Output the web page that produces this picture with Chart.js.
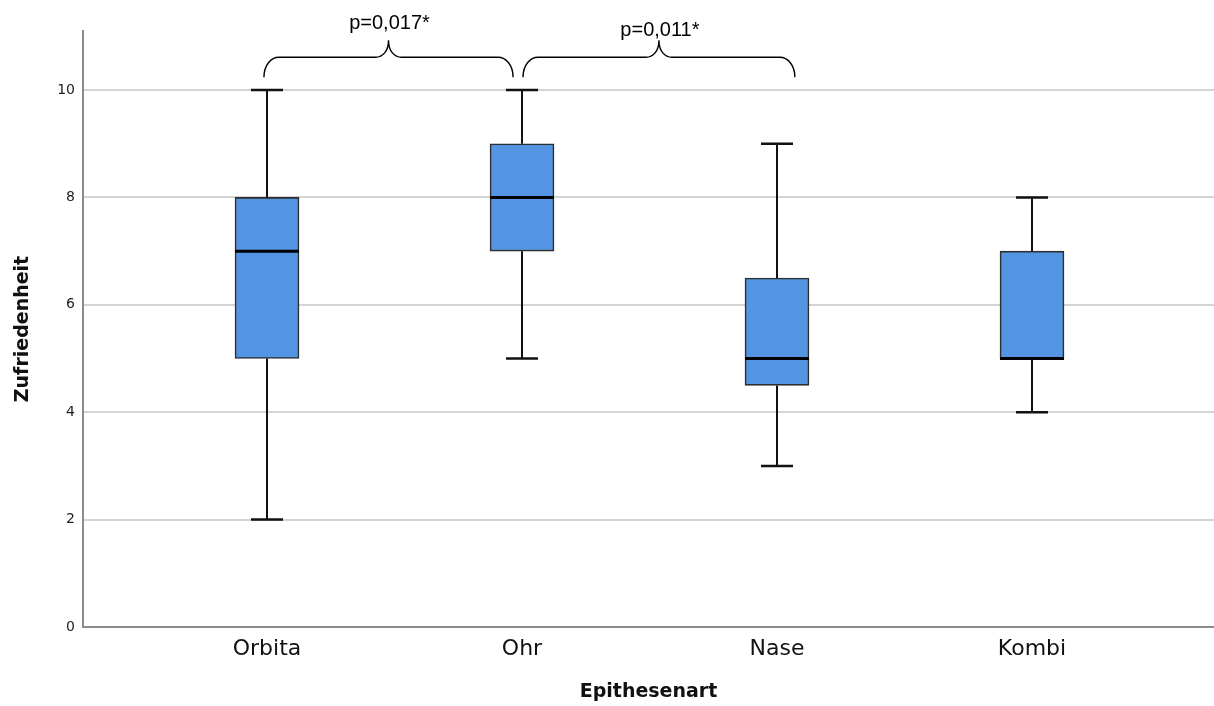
<!DOCTYPE html>
<html>
<head>
<meta charset="utf-8">
<script src="https://cdn.jsdelivr.net/npm/chart.js@4"></script>
<style>
  html, body { margin: 0; padding: 0; background: #ffffff; }
  #wrap { width: 1214px; height: 706px; position: relative; }
</style>
</head>
<body>
<div id="wrap"><canvas id="c" width="1214" height="706"></canvas></div>
<script>
// ---- data ----
const categories = ['Orbita', 'Ohr', 'Nase', 'Kombi'];
const whiskerLow = [2, 5, 3, 4];
const q1 = [5, 7, 4.5, 5];
const median = [7, 8, 5, 5];
const q3 = [8, 9, 6.5, 7];
const whiskerHigh = [10, 10, 9, 8];
const yTickValues = [0, 2, 4, 6, 8, 10];
const comparisonLabels = ['p=0,017*', 'p=0,011*'];
const braceStart = [-0.012, 1.004];
const braceEnd = [0.965, 2.07];
const braceTipY = [10.24, 10.24];
const braceBarY = [10.61, 10.61];
const bracePeakY = [10.93, 10.93];
const labelBaseY = [11.14, 11.01];

const FONT = "'DejaVu Sans', sans-serif";

const boxPlugin = {
  id: 'boxExtras',
  afterDatasetsDraw(chart) {
    const ctx = chart.ctx;
    const xs = chart.scales.x, ys = chart.scales.y;
    const meta = chart.getDatasetMeta(0);
    ctx.save();
    categories.forEach((c, i) => {
      const cx = xs.getPixelForValue(i);
      const bar = meta.data[i];
      const half = bar.width / 2;
      // whiskers
      ctx.strokeStyle = '#111';
      ctx.lineWidth = 2;
      ctx.beginPath();
      ctx.moveTo(cx, ys.getPixelForValue(q3[i]));
      ctx.lineTo(cx, ys.getPixelForValue(whiskerHigh[i]));
      ctx.moveTo(cx, ys.getPixelForValue(q1[i]));
      ctx.lineTo(cx, ys.getPixelForValue(whiskerLow[i]));
      ctx.stroke();
      // caps
      ctx.lineWidth = 2.5;
      ctx.beginPath();
      ctx.moveTo(cx - 16, ys.getPixelForValue(whiskerHigh[i]));
      ctx.lineTo(cx + 16, ys.getPixelForValue(whiskerHigh[i]));
      ctx.moveTo(cx - 16, ys.getPixelForValue(whiskerLow[i]));
      ctx.lineTo(cx + 16, ys.getPixelForValue(whiskerLow[i]));
      ctx.stroke();
      // median
      ctx.strokeStyle = '#000';
      ctx.lineWidth = 3;
      ctx.beginPath();
      ctx.moveTo(cx - half, ys.getPixelForValue(median[i]));
      ctx.lineTo(cx + half, ys.getPixelForValue(median[i]));
      ctx.stroke();
    });
    // braces
    ctx.strokeStyle = '#000';
    ctx.lineWidth = 1.4;
    comparisonLabels.forEach((lab, k) => {
      const x0 = xs.getPixelForValue(braceStart[k]);
      const x1 = xs.getPixelForValue(braceEnd[k]);
      const xm = (x0 + x1) / 2;
      const yt = ys.getPixelForValue(braceTipY[k]);
      const yb = ys.getPixelForValue(braceBarY[k]);
      const yp = ys.getPixelForValue(bracePeakY[k]);
      const r = 15, r2 = 13;
      ctx.beginPath();
      ctx.moveTo(x0, yt);
      ctx.bezierCurveTo(x0, yb + 8, x0 + 7, yb, x0 + r, yb);
      ctx.lineTo(xm - r2, yb);
      ctx.bezierCurveTo(xm - 6, yb, xm, yb - 6, xm, yp);
      ctx.bezierCurveTo(xm, yb - 6, xm + 6, yb, xm + r2, yb);
      ctx.lineTo(x1 - r, yb);
      ctx.bezierCurveTo(x1 - 7, yb, x1, yb + 8, x1, yt);
      ctx.stroke();
      ctx.fillStyle = '#000';
      ctx.font = "20px 'Liberation Sans', Arial, sans-serif";
      ctx.textAlign = 'center';
      ctx.textBaseline = 'alphabetic';
      ctx.fillText(lab, xm + 1, ys.getPixelForValue(labelBaseY[k]));
    });
    ctx.restore();
  }
};

new Chart(document.getElementById('c'), {
  type: 'bar',
  data: {
    datasets: [{
      data: categories.map((c, i) => ({ x: i, y: [q1[i], q3[i]] })),
      backgroundColor: '#5394E3',
      borderColor: '#2e2e2e',
      borderWidth: 1.6,
      borderSkipped: false,
      barThickness: 64
    }]
  },
  options: {
    responsive: false,
    animation: false,
    events: [],
    layout: { padding: { top: 31, right: 0, left: 0, bottom: 0 } },
    plugins: { legend: { display: false }, tooltip: { enabled: false } },
    scales: {
      x: {
        type: 'linear',
        offset: false,
        min: -0.7216,
        max: 3.7137,
        grid: { display: false, offset: false },
        border: { display: true, color: '#8c8c8c', width: 2 },
        afterBuildTicks(s) { s.ticks = categories.map((c, i) => ({ value: i })); },
        afterFit(s) { s.height = 79; },
        ticks: {
          autoSkip: false,
          maxRotation: 0,
          padding: 1,
          color: '#111',
          font: { family: FONT, size: 22 },
          callback: (v) => categories[v] ?? ''
        },
        title: {
          display: true,
          text: 'Epithesenart',
          color: '#111',
          font: { family: FONT, size: 19, weight: 'bold' },
          padding: { top: 0, bottom: 3 }
        }
      },
      y: {
        min: 0,
        max: 11.1,
        afterBuildTicks(s) { s.ticks = yTickValues.map(v => ({ value: v })); },
        afterFit(s) { s.width = 83; },
        grid: { color: '#d4d4d4', lineWidth: 2, drawTicks: false },
        border: { display: true, color: '#8c8c8c', width: 2 },
        ticks: {
          padding: 8,
          color: '#222',
          font: { family: FONT, size: 14 }
        },
        title: {
          display: true,
          text: 'Zufriedenheit',
          color: '#111',
          font: { family: FONT, size: 19, weight: 'bold' },
          padding: { top: 12, bottom: 0 }
        }
      }
    }
  },
  plugins: [boxPlugin]
});
</script>
</body>
</html>
